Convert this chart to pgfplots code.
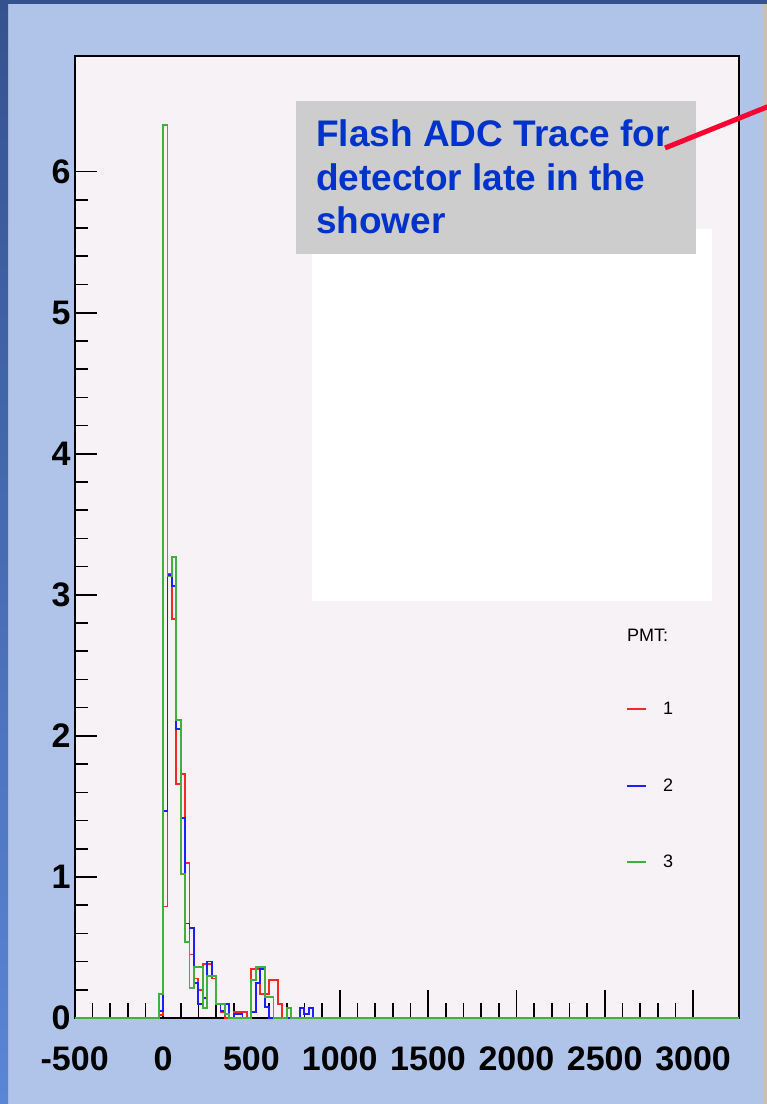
\documentclass[border=0pt]{standalone}
\usepackage{fontspec}
\setmainfont{Liberation Sans}
\usepackage{pgfplots}
\usepackage{pgfplotstable}
\pgfplotsset{compat=1.18}

\definecolor{panelblue}{HTML}{AFC4E8}
\definecolor{stripdark}{HTML}{35528F}
\definecolor{striplight}{HTML}{5A86D6}
\definecolor{edgetan}{HTML}{C9C0B1}
\definecolor{plotbg}{HTML}{F6F2F6}
\definecolor{boxgray}{HTML}{CDCDCD}
\definecolor{titleblue}{HTML}{0033CC}
\definecolor{pointerred}{HTML}{FF0033}
\definecolor{pmtred}{HTML}{F52828}
\definecolor{pmtblue}{HTML}{1E1EFF}
\definecolor{pmtgreen}{HTML}{40B040}

% FADC trace, 25 ns bins; x = left bin edge, one column per PMT
\pgfplotstableread{
x     R     B     G
-500  0     0     0
-25   0.02  0.05  0.17
0     0.79  1.47  6.33
25    3.15  3.14  3.13
50    2.83  3.06  3.27
75    1.66  2.05  2.11
100   1.73  1.42  1.02
125   1.10  0.67  0.54
150   0.45  0.64  0.21
175   0.28  0.25  0.36
200   0.20  0.10  0.36
225   0.38  0.14  0.07
250   0.38  0.40  0.30
275   0.28  0.30  0.30
300   0.10  0.10  0.10
325   0.04  0.05  0.10
350   0     0.10  0.03
375   0     0     0
400   0.04  0.03  0
425   0.04  0.03  0
450   0.04  0     0
475   0     0     0
500   0.35  0.04  0.27
525   0.35  0.25  0.36
550   0.17  0.35  0.36
575   0.17  0.08  0.15
600   0.27  0     0.15
625   0.27  0     0
650   0.10  0     0
675   0     0     0
700   0     0     0.07
725   0     0     0
750   0     0     0
775   0     0.07  0
800   0     0.03  0
825   0     0.07  0
850   0     0     0
3260  0     0     0
}\fadc

\pgfplotsset{
  panel/.style={
    at={(74.7pt,86pt)}, anchor=south west, scale only axis,
    width=664.3pt, height=962pt,
    xmin=-500, xmax=3260, ymin=0, ymax=6.82,
    tick align=inside, tick pos=left,
    axis line style={black, line width=1.6pt},
    tick style={black, line width=1.6pt},
    /pgf/number format/assume math mode=true,
    ticklabel style={font=\bfseries\fontsize{34}{34}\selectfont, inner sep=0pt},
  },
}

\begin{document}
\begin{tikzpicture}[x=1pt,y=1pt]
\useasboundingbox (0,0) rectangle (767,1104);
\begin{scope}
\clip (0,0) rectangle (767,1104);
% slide background
\fill[panelblue] (0,0) rectangle (767,1104);
\shade[top color=stripdark, bottom color=striplight] (0,0) rectangle (8,1104);
\fill[stripdark] (0,1100) rectangle (767,1104);
\fill[edgetan] (763,0) rectangle (767,1100);

% frame with the y ticks
\begin{axis}[panel,
  axis background/.style={fill=plotbg},
  xtick=\empty,
  ytick={0,1,2,3,4,5,6}, yticklabels={0,1,2,3,4,5,6},
  minor y tick num=4,
  major tick length=22pt, minor tick length=13pt,
  yticklabel style={anchor=east, xshift=-4pt},
]
\end{axis}

% histograms with the x ticks
\begin{axis}[panel,
  ytick=\empty,
  xtick={-500,0,500,1000,1500,2000,2500,3000},
  xticklabels={-500,0,500,1000,1500,2000,2500,3000},
  minor x tick num=4,
  major tick length=28pt, minor tick length=15pt,
  xticklabel style={anchor=north, yshift=-29pt},
  every axis plot/.append style={const plot, line width=1.8pt, line join=miter, mark=none},
]
\addplot[pmtred]   table[x=x, y=R] {\fadc};
\addplot[pmtblue]  table[x=x, y=B] {\fadc};
\addplot[pmtgreen] table[x=x, y=G] {\fadc};
\end{axis}

% annotation
\fill[white] (312,503) rectangle (712,875);
\fill[boxgray] (296,850) rectangle (696,1003);
\begin{scope}[every node/.style={anchor=base west, inner sep=0pt, text=titleblue,
    font=\bfseries\fontsize{37}{43}\selectfont}]
  \node at (316,957) {Flash ADC Trace for};
  \node at (316,913.5) {detector late in the};
  \node at (316,870) {shower};
\end{scope}
\draw[pointerred, line width=5pt] (665,956) -- (800,1010.3);

% legend
\begin{scope}[every node/.style={anchor=base west, inner sep=0pt, font=\fontsize{18}{18}\selectfont}]
  \node at (627,462) {PMT:};
  \draw[pmtred, line width=1.5pt] (627,395) -- (646,395);
  \node at (663,389) {1};
  \draw[pmtblue, line width=1.5pt] (627,318) -- (646,318);
  \node at (663,312) {2};
  \draw[pmtgreen, line width=1.5pt] (627,242) -- (646,242);
  \node at (663,236) {3};
\end{scope}
\end{scope}
\end{tikzpicture}
\end{document}
